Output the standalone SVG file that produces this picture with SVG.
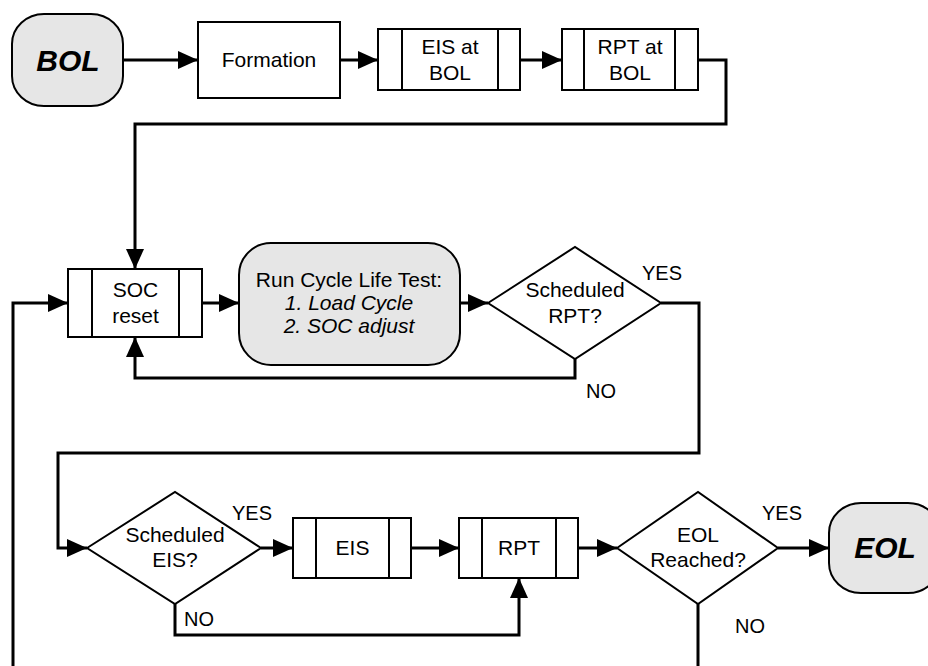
<svg xmlns="http://www.w3.org/2000/svg" width="928" height="666" viewBox="0 0 928 666">
<defs>
<marker id="arr" markerUnits="userSpaceOnUse" markerWidth="20" markerHeight="18" refX="20" refY="9" orient="auto">
<path d="M0,0 L20,9 L0,18 z" fill="#000"/>
</marker>
<style>
.shape{fill:#fff;stroke:#000;stroke-width:2}
.term{fill:#e6e6e6;stroke:#000;stroke-width:2}
.bar{stroke:#000;stroke-width:2;fill:none}
.conn{fill:none;stroke:#000;stroke-width:3;marker-end:url(#arr)}
.plain{fill:none;stroke:#000;stroke-width:3}
text{font-family:"Liberation Sans",Arial,sans-serif;font-size:21px;fill:#000;text-anchor:middle}
.lbl{font-size:20px;text-anchor:start}
.big{font-size:30px;font-weight:bold;font-style:italic}
.it{font-style:italic}
</style>
</defs>
<rect width="928" height="666" fill="#fff"/>
<g id="connectors">
<path class="conn" d="M123,60 H198"/>
<path class="conn" d="M340,60 H378"/>
<path class="conn" d="M520,60 H562"/>
<path class="conn" d="M698,60 H726 V124 H135 V269"/>
<path class="conn" d="M202,303 H239"/>
<path class="conn" d="M460,303 H488"/>
<path class="conn" d="M575,359 V378 H135 V337"/>
<path class="conn" d="M661,303 H699 V453 H58 V548 H87"/>
<path class="conn" d="M261,548 H293"/>
<path class="conn" d="M411,548 H459"/>
<path class="conn" d="M175,604 V635 H519 V578"/>
<path class="conn" d="M578,548 H617"/>
<path class="conn" d="M778,548 H829"/>
<path class="conn" d="M698,604 V690 H13 V303 H68"/>
</g>
<g id="bol">
<rect class="term" x="12" y="14" width="111" height="92" rx="32" ry="30"/>
<text class="big" x="68" y="71">BOL</text>
</g>
<g id="formation">
<rect class="shape" x="198" y="22" width="142" height="76"/>
<text x="269" y="67">Formation</text>
</g>
<g id="eis-bol">
<rect class="shape" x="378" y="29" width="142" height="61"/>
<path class="bar" d="M402,29 V90 M498,29 V90"/>
<text x="450" y="54">EIS at</text>
<text x="450" y="80">BOL</text>
</g>
<g id="rpt-bol">
<rect class="shape" x="562" y="29" width="136" height="61"/>
<path class="bar" d="M584,29 V90 M675,29 V90"/>
<text x="630" y="54">RPT at</text>
<text x="630" y="80">BOL</text>
</g>
<g id="soc-reset">
<rect class="shape" x="68" y="269" width="134" height="68"/>
<path class="bar" d="M92,269 V337 M179,269 V337"/>
<text x="135.5" y="297">SOC</text>
<text x="135.5" y="323">reset</text>
</g>
<g id="run-cycle">
<rect class="term" x="239" y="243" width="221" height="122" rx="32" ry="32"/>
<text x="349" y="287">Run Cycle Life Test:</text>
<text class="it" x="349" y="310">1. Load Cycle</text>
<text class="it" x="349" y="333">2. SOC adjust</text>
</g>
<g id="sched-rpt">
<polygon class="shape" points="488,303 575,247 661,303 575,359"/>
<text x="575" y="297">Scheduled</text>
<text x="575" y="323">RPT?</text>
<text class="lbl" x="642" y="280">YES</text>
<text class="lbl" x="586" y="398">NO</text>
</g>
<g id="sched-eis">
<polygon class="shape" points="87,548 175,492 261,548 175,604"/>
<text x="175" y="542">Scheduled</text>
<text x="175" y="567">EIS?</text>
<text class="lbl" x="232" y="520">YES</text>
<text class="lbl" x="184" y="626">NO</text>
</g>
<g id="eis">
<rect class="shape" x="293" y="518" width="118" height="60"/>
<path class="bar" d="M316,518 V578 M389,518 V578"/>
<text x="352.5" y="555">EIS</text>
</g>
<g id="rpt">
<rect class="shape" x="459" y="518" width="119" height="60"/>
<path class="bar" d="M482,518 V578 M556,518 V578"/>
<text x="519" y="555">RPT</text>
</g>
<g id="eol-reached">
<polygon class="shape" points="617,548 698,492 778,548 698,604"/>
<text x="698" y="542">EOL</text>
<text x="698" y="567">Reached?</text>
<text class="lbl" x="762" y="520">YES</text>
<text class="lbl" x="735" y="633">NO</text>
</g>
<g id="eol">
<rect class="term" x="829" y="503" width="111" height="90" rx="32" ry="30"/>
<text class="big" x="885" y="558">EOL</text>
</g>
</svg>
